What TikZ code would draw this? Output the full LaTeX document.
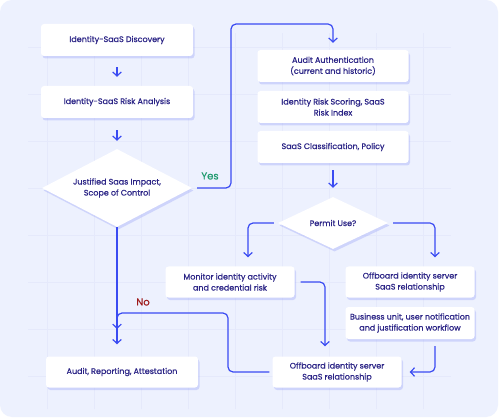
\documentclass[tikz,border=0pt]{standalone}
\usepackage{fontspec}
\setmainfont{Poppins}
\newfontfamily\boxfont{Poppins}[FakeBold=0.6]
\usepackage{tikz}
\usetikzlibrary{arrows.meta,shapes.geometric,shadows,backgrounds}
\definecolor{cardbg}{HTML}{EDF1FE}
\definecolor{gridln}{HTML}{E5E9FB}
\definecolor{ink}{HTML}{2B2486}
\definecolor{flow}{HTML}{3A4BF2}
\definecolor{yesgreen}{HTML}{1F9A6E}
\definecolor{nored}{HTML}{9E1A1A}
\tikzstyle{glow}=[drop shadow={fill=flow!60,opacity=0.3,shadow xshift=1.5pt,shadow yshift=-2.5pt}]
\tikzstyle{stepbox}=[rectangle,rounded corners=3pt,fill=white,glow,
              text=ink,align=center,inner sep=0pt,minimum height=32pt]
\tikzstyle{wide}=[stepbox,minimum width=152pt]
\tikzstyle{narrow}=[stepbox,minimum width=129pt]
\tikzstyle{choice}=[diamond,fill=white,glow,text=ink,align=center,inner sep=0pt]
\tikzstyle{line}=[flow,line width=1.2pt,rounded corners=5pt,
              -{Straight Barb[length=4pt,width=8.5pt]}]

\begin{document}
\begin{tikzpicture}[x=1pt,y=-1pt,font=\boxfont\fontsize{8}{11}\selectfont]

  % card and faint grid
  \fill[white] (0,0) rectangle (500,419);
  \fill[cardbg,rounded corners=12pt] (0,0) rectangle (498,417);
  \draw[gridln,line width=0.5pt] (28,33) grid[step=47pt] (451,409);
  \useasboundingbox (0,0) rectangle (500,419);

  % left column
  \node[wide] (disc) at (117,40) {Identity-SaaS Discovery};
  \node[wide] (risk) at (117,102) {Identity-SaaS Risk Analysis};
  \node[choice,aspect=1.92,minimum width=150pt,minimum height=78pt] (just) at (117,188)
        {Justified Saas Impact,\\Scope of Control};
  \node[wide,minimum height=31pt] (audit) at (122,372) {Audit, Reporting, Attestation};

  % right column
  \node[wide,minimum width=151pt] (auth) at (333,66) {Audit Authentication\\(current and historic)};
  \node[wide,minimum width=151pt] (score) at (333,107) {Identity Risk Scoring, SaaS\\Risk Index};
  \node[wide,minimum width=151pt] (class) at (333,147) {SaaS Classification, Policy};
  \node[choice,aspect=2.1,minimum width=110pt,minimum height=52pt] (permit) at (333,223) {Permit Use?};
  \node[narrow,minimum height=31pt] (monitor) at (230,282) {Monitor identity activity\\and credential risk};
  \node[narrow,minimum height=31pt] (offr) at (410,282) {Offboard identity server\\SaaS relationship};
  \node[narrow] (bizu) at (410,323) {Business unit, user notification\\and justification workflow};
  \node[narrow,minimum height=31pt] (offb) at (337,372) {Offboard identity server\\SaaS relationship};

  \coordinate (yesup) at (231,24);
  \coordinate (nobend) at (228,313);
  \coordinate (nomid) at (117,329);

  \path [line,shorten <=11pt,shorten >=9pt] (disc) edge (risk);
  \draw [line,shorten <=12pt,shorten >=8pt] (risk.south) -- (just.north);
  \draw [line,shorten <=5pt,shorten >=7pt] (just.east) -| (yesup) -| (auth.north);
  \draw [line,shorten <=7pt,shorten >=9pt] (class.south) -- (permit.north);
  \draw [line,shorten <=4pt,shorten >=9pt] (permit.west) -| ([xshift=18pt]monitor.north);
  \draw [line,shorten <=5pt,shorten >=9pt] (permit.east) -| ([xshift=25pt]offr.north);
  \draw [line,shorten <=7pt,shorten >=8pt] ([xshift=25pt]bizu.south) |- (offb.east);
  \draw [line,shorten <=6pt,shorten >=10pt] (monitor.east) -| ([xshift=-12pt]offb.north);
  \draw [line,shorten <=3pt] (offb.west) -| (nobend) -| (nomid);
  \draw [line,shorten >=12pt] (just.south) -- ([xshift=-5pt]audit.north);

  \node[text=yesgreen,font=\boxfont\fontsize{10}{11}\selectfont] (yes) at (210,176) {Yes};
  \node[text=nored,font=\boxfont\fontsize{10}{11}\selectfont] (no) at (143,302) {No};

\end{tikzpicture}
\end{document}
